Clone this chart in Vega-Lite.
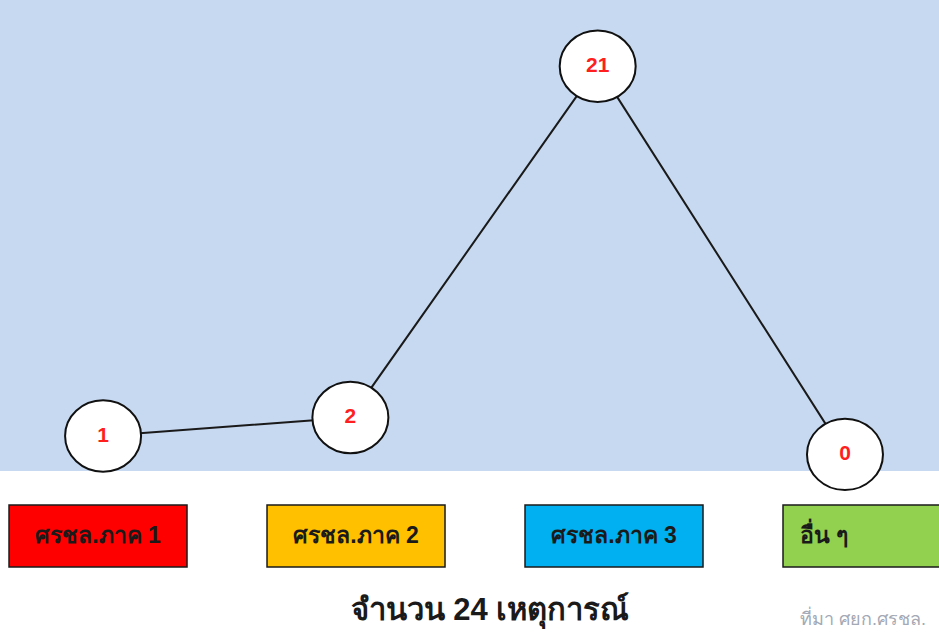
{
  "$schema": "https://vega.github.io/schema/vega-lite/v6.json",
  "width": 939,
  "height": 634,
  "autosize": {"type": "none"},
  "padding": 0,
  "background": "white",
  "config": {"view": {"stroke": null}},
  "datasets": {
    "events": [
      {"region": "ศรชล.ภาค 1", "count": 1},
      {"region": "ศรชล.ภาค 2", "count": 2},
      {"region": "ศรชล.ภาค 3", "count": 21},
      {"region": "อื่น ๆ", "count": 0}
    ]
  },
  "data": {"name": "events"},
  "resolve": {"scale": {"x": "independent"}},
  "layer": [
    {
      "data": {"values": [{}]},
      "mark": {"type": "rect", "color": "#c6d9f1"},
      "encoding": {
        "y": {"datum": 24.59, "type": "quantitative", "scale": {"domain": [-9.72, 24.59], "nice": false, "zero": false}, "axis": null},
        "y2": {"datum": -0.9}
      }
    },
    {
      "encoding": {
        "x": {"field": "region", "type": "nominal", "sort": null, "scale": {"type": "point", "padding": 0.3985, "align": 0.523}, "axis": null},
        "y": {"field": "count", "type": "quantitative", "scale": {"domain": [-9.72, 24.59], "nice": false, "zero": false}, "axis": null}
      },
      "layer": [
        {"mark": {"type": "line", "color": "#1a1a1a", "strokeWidth": 2}},
        {"mark": {"type": "point", "shape": "M -1 0 A 1 0.94 0 1 0 1 0 A 1 0.94 0 1 0 -1 0 Z", "size": 5776, "filled": true, "fill": "white", "stroke": "#111111", "strokeWidth": 2, "opacity": 1}},
        {"mark": {"type": "text", "color": "#ff1f1f", "fontSize": 21, "fontWeight": "bold", "font": "Liberation Sans"}, "encoding": {"text": {"field": "count", "type": "quantitative"}}}
      ]
    },
    {
      "encoding": {
        "x": {"field": "region", "type": "nominal", "sort": null, "scale": {"type": "point", "padding": 0.3198, "align": 0.594}, "axis": null}
      },
      "layer": [
        {
          "mark": {"type": "bar", "width": 178, "stroke": "#1a1a1a", "strokeWidth": 1.5},
          "encoding": {
            "y": {"datum": -2.74, "type": "quantitative", "scale": {"domain": [-9.72, 24.59], "nice": false, "zero": false}, "axis": null},
            "y2": {"datum": -6.09},
            "color": {"field": "region", "type": "nominal", "scale": {"domain": ["ศรชล.ภาค 1", "ศรชล.ภาค 2", "ศรชล.ภาค 3", "อื่น ๆ"], "range": ["#ff0000", "#ffc000", "#00b0f0", "#92d050"]}, "legend": null}
          }
        },
        {
          "transform": [{"filter": "datum.region !== 'อื่น ๆ'"}],
          "mark": {"type": "text", "color": "#1a1a1a", "fontSize": 23, "fontWeight": "bold"},
          "encoding": {
            "y": {"datum": -4.42, "type": "quantitative", "scale": {"domain": [-9.72, 24.59], "nice": false, "zero": false}, "axis": null},
            "text": {"field": "region"}
          }
        },
        {
          "transform": [{"filter": "datum.region === 'อื่น ๆ'"}],
          "mark": {"type": "text", "color": "#1a1a1a", "fontSize": 23, "fontWeight": "bold", "dx": -48},
          "encoding": {
            "y": {"datum": -4.42, "type": "quantitative", "scale": {"domain": [-9.72, 24.59], "nice": false, "zero": false}, "axis": null},
            "text": {"field": "region"}
          }
        },
        {
          "data": {"values": [{"label": "จำนวน 24 เหตุการณ์"}]},
          "mark": {"type": "text", "color": "#1a1a1a", "fontSize": 31, "fontWeight": "bold", "dx": 134},
          "encoding": {
            "x": {"datum": "ศรชล.ภาค 2"},
            "y": {"datum": -8.45, "type": "quantitative", "scale": {"domain": [-9.72, 24.59], "nice": false, "zero": false}, "axis": null},
            "text": {"field": "label"}
          }
        },
        {
          "data": {"values": [{"label": "ที่มา ศยก.ศรชล."}]},
          "mark": {"type": "text", "color": "#a3a9b5", "fontSize": 18, "align": "left", "dx": -72},
          "encoding": {
            "x": {"datum": "อื่น ๆ"},
            "y": {"datum": -8.96, "type": "quantitative", "scale": {"domain": [-9.72, 24.59], "nice": false, "zero": false}, "axis": null},
            "text": {"field": "label"}
          }
        }
      ]
    }
  ]
}
